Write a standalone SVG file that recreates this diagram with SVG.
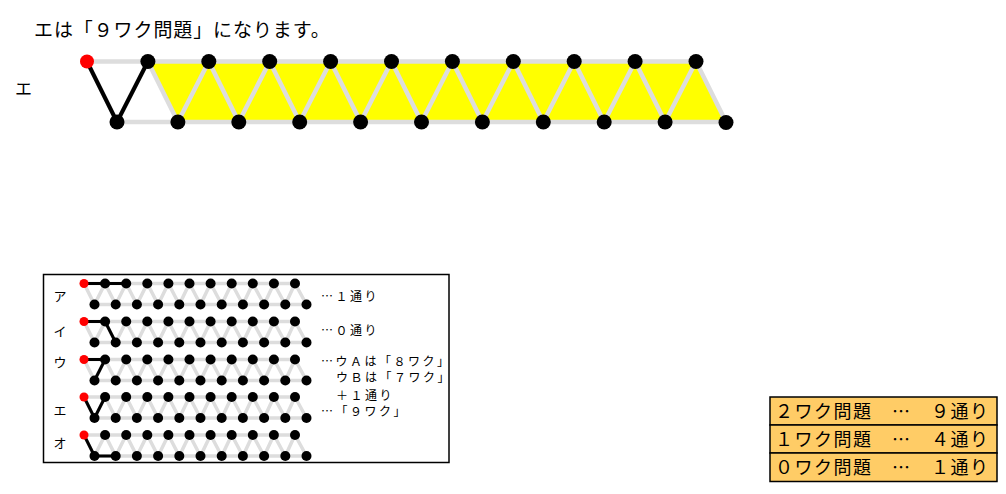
<svg xmlns="http://www.w3.org/2000/svg" xmlns:xlink="http://www.w3.org/1999/xlink" width="1006" height="494" viewBox="0 0 1006 494">
<style>
text{font-family:"Noto Sans CJK JP","Noto Sans",sans-serif;fill:#000}
.title{font-size:19px;letter-spacing:0.9px}
.lbl{font-size:17px}
.sm{font-size:12px;letter-spacing:2.5px}
.slbl{font-size:13px;text-anchor:middle}
.tb{font-size:18px;letter-spacing:1.5px}
.g{fill:none;stroke:#dddddd;stroke-linejoin:round}
.gb{stroke-width:4.5}
.gs{stroke-width:3.5}
.bl{fill:none;stroke:#000;stroke-linejoin:round;stroke-linecap:round}
.n{fill:#000}
.r{fill:#ff0000}
.cell{fill:#ffcc66;stroke:#000;stroke-width:1.5}
</style>
<rect x="0" y="0" width="1006" height="494" fill="#ffffff"/>
<text class="title" x="34" y="36.5">エは「９ワク問題」になります。</text>
<text class="lbl" x="15" y="94.5">エ</text>
<g id="connectors">
<polygon points="147.9,61.5 696,61.5 726,122 177.9,122" fill="#ffff00"/>
<line class="g gb" x1="87" y1="61.5" x2="696" y2="61.5"/>
<line class="g gb" x1="117" y1="122" x2="726" y2="122"/>
<polyline class="g gb" points="87,61.5 117,122 147.9,61.5 177.9,122 208.8,61.5 238.8,122 269.7,61.5 299.7,122 330.6,61.5 360.6,122 391.5,61.5 421.5,122 452.4,61.5 482.4,122 513.3,61.5 543.3,122 574.2,61.5 604.2,122 635.1,61.5 665.1,122 696,61.5 726,122"/>
<path class="bl" stroke-width="4" d="M87,61.5 L117,122 L147.9,61.5"/>
</g>
<g id="big-nodes">
<g id="T0"><circle class="r" cx="87" cy="61.5" r="7"/></g>
<g id="T1"><circle class="n" cx="147.9" cy="61.5" r="7.5"/></g>
<g id="T2"><circle class="n" cx="208.8" cy="61.5" r="7.5"/></g>
<g id="T3"><circle class="n" cx="269.7" cy="61.5" r="7.5"/></g>
<g id="T4"><circle class="n" cx="330.6" cy="61.5" r="7.5"/></g>
<g id="T5"><circle class="n" cx="391.5" cy="61.5" r="7.5"/></g>
<g id="T6"><circle class="n" cx="452.4" cy="61.5" r="7.5"/></g>
<g id="T7"><circle class="n" cx="513.3" cy="61.5" r="7.5"/></g>
<g id="T8"><circle class="n" cx="574.2" cy="61.5" r="7.5"/></g>
<g id="T9"><circle class="n" cx="635.1" cy="61.5" r="7.5"/></g>
<g id="T10"><circle class="n" cx="696" cy="61.5" r="7.5"/></g>
<g id="B0"><circle class="n" cx="117" cy="122" r="7.5"/></g>
<g id="B1"><circle class="n" cx="177.9" cy="122" r="7.5"/></g>
<g id="B2"><circle class="n" cx="238.8" cy="122" r="7.5"/></g>
<g id="B3"><circle class="n" cx="299.7" cy="122" r="7.5"/></g>
<g id="B4"><circle class="n" cx="360.6" cy="122" r="7.5"/></g>
<g id="B5"><circle class="n" cx="421.5" cy="122" r="7.5"/></g>
<g id="B6"><circle class="n" cx="482.4" cy="122" r="7.5"/></g>
<g id="B7"><circle class="n" cx="543.3" cy="122" r="7.5"/></g>
<g id="B8"><circle class="n" cx="604.2" cy="122" r="7.5"/></g>
<g id="B9"><circle class="n" cx="665.1" cy="122" r="7.5"/></g>
<g id="B10"><circle class="n" cx="726" cy="122.5" r="7.5"/></g>
</g>
<defs>
<g id="smallgray">
<line class="g gs" x1="84" y1="283.5" x2="295" y2="283.5"/>
<line class="g gs" x1="94.5" y1="304.5" x2="306.5" y2="304.5"/>
<polyline class="g gs" points="84,283.5 94.5,304.5 105.1,283.5 115.7,304.5 126.2,283.5 136.9,304.5 147.3,283.5 158.1,304.5 168.4,283.5 179.3,304.5 189.5,283.5 200.5,304.5 210.6,283.5 221.7,304.5 231.7,283.5 242.9,304.5 252.8,283.5 264.1,304.5 273.9,283.5 285.3,304.5 295,283.5 306.5,304.5"/>
</g>
<g id="smallnodes">
<circle class="r" cx="84" cy="283.5" r="4.5"/>
<circle class="n" cx="105.1" cy="283.5" r="5"/>
<circle class="n" cx="126.2" cy="283.5" r="5"/>
<circle class="n" cx="147.3" cy="283.5" r="5"/>
<circle class="n" cx="168.4" cy="283.5" r="5"/>
<circle class="n" cx="189.5" cy="283.5" r="5"/>
<circle class="n" cx="210.6" cy="283.5" r="5"/>
<circle class="n" cx="231.7" cy="283.5" r="5"/>
<circle class="n" cx="252.8" cy="283.5" r="5"/>
<circle class="n" cx="273.9" cy="283.5" r="5"/>
<circle class="n" cx="295" cy="283.5" r="5"/>
<circle class="n" cx="94.5" cy="304.5" r="5"/>
<circle class="n" cx="115.7" cy="304.5" r="5"/>
<circle class="n" cx="136.9" cy="304.5" r="5"/>
<circle class="n" cx="158.1" cy="304.5" r="5"/>
<circle class="n" cx="179.3" cy="304.5" r="5"/>
<circle class="n" cx="200.5" cy="304.5" r="5"/>
<circle class="n" cx="221.7" cy="304.5" r="5"/>
<circle class="n" cx="242.9" cy="304.5" r="5"/>
<circle class="n" cx="264.1" cy="304.5" r="5"/>
<circle class="n" cx="285.3" cy="304.5" r="5"/>
<circle class="n" cx="306.5" cy="304.5" r="5"/>
</g>
</defs>
<rect x="43.5" y="274.5" width="405.5" height="188" fill="#ffffff" stroke="#000" stroke-width="1.5"/>
<g id="row-a">
<use xlink:href="#smallgray"/>
<path class="bl" stroke-width="3" d="M84,283.5 L105.1,283.5 L126.2,283.5"/>
<g id="row-a-nodes"><use xlink:href="#smallnodes"/></g>
</g>
<g id="row-i" transform="translate(0,38)">
<use xlink:href="#smallgray"/>
<path class="bl" stroke-width="3" d="M84,283.5 L105.1,283.5 L115.7,304.5"/>
<g id="row-i-nodes"><use xlink:href="#smallnodes"/></g>
</g>
<g id="row-u" transform="translate(0,76)">
<use xlink:href="#smallgray"/>
<path class="bl" stroke-width="3" d="M84,283.5 L105.1,283.5 L94.5,304.5"/>
<g id="row-u-nodes"><use xlink:href="#smallnodes"/></g>
</g>
<g id="row-e" transform="translate(0,113.5)">
<use xlink:href="#smallgray"/>
<path class="bl" stroke-width="3" d="M84,283.5 L94.5,304.5 L105.1,283.5"/>
<g id="row-e-nodes"><use xlink:href="#smallnodes"/></g>
</g>
<g id="row-o" transform="translate(0,151.5)">
<use xlink:href="#smallgray"/>
<path class="bl" stroke-width="3" d="M84,283.5 L94.5,304.5 L115.7,304.5"/>
<g id="row-o-nodes"><use xlink:href="#smallnodes"/></g>
</g>
<g id="small-labels">
<text class="slbl" x="60" y="301">ア</text>
<text class="slbl" x="60" y="336">イ</text>
<text class="slbl" x="60" y="367">ウ</text>
<text class="slbl" x="60" y="415">エ</text>
<text class="slbl" x="60" y="448">オ</text>
<text class="sm" x="321" y="301">…１通り</text>
<text class="sm" x="321" y="334.5">…０通り</text>
<text class="sm" x="321" y="365.5">…ウＡは「８ワク」</text>
<text class="sm" x="336" y="381.5">ウＢは「７ワク」</text>
<text class="sm" x="336" y="399.5">＋１通り</text>
<text class="sm" x="321" y="416">…「９ワク」</text>
</g>
<g id="table">
<rect class="cell" x="770" y="397" width="227" height="28"/>
<rect class="cell" x="770" y="425" width="227" height="28"/>
<rect class="cell" x="770" y="453" width="227" height="28.5"/>
<text class="tb" x="775" y="417.5">２ワク問題</text>
<text class="tb" x="892" y="417.5">…</text>
<text class="tb" x="931" y="417.5">９通り</text>
<text class="tb" x="775" y="446">１ワク問題</text>
<text class="tb" x="892" y="446">…</text>
<text class="tb" x="931" y="446">４通り</text>
<text class="tb" x="775" y="473.5">０ワク問題</text>
<text class="tb" x="892" y="473.5">…</text>
<text class="tb" x="931" y="473.5">１通り</text>
</g>
</svg>
